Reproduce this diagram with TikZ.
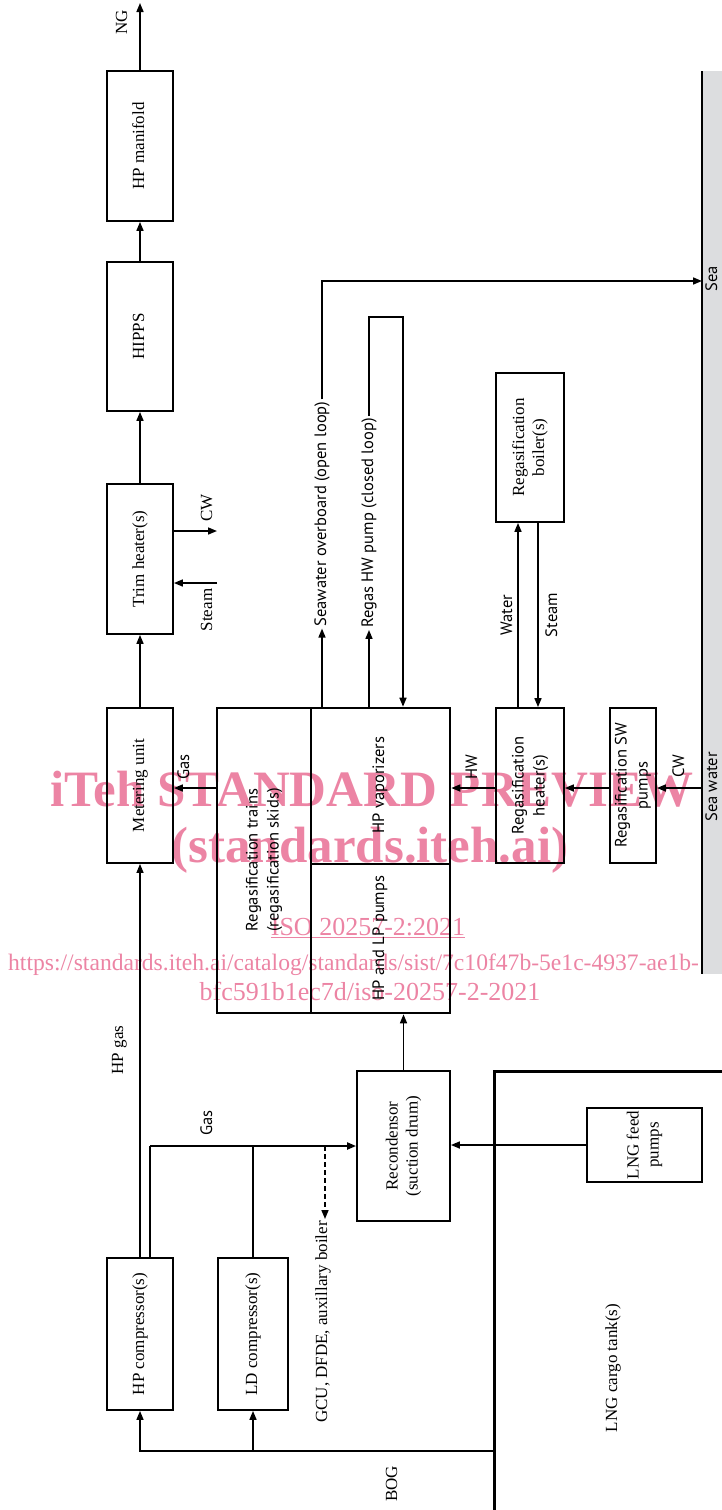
\documentclass[tikz,border=0pt]{standalone}
\usepackage{graphicx}
\usepackage{fontspec}
\setmainfont{Liberation Serif}
\newfontfamily\sanf{PT Sans}
\usetikzlibrary{arrows.meta}
\definecolor{wmpink}{RGB}{236,132,164}
\definecolor{seagray}{RGB}{220,221,223}
\newcommand\rt[1]{\rotatebox{90}{\begin{tabular}{@{}c@{}}#1\end{tabular}}}
\newcommand\serfs{\fontsize{17}{20}\selectfont}
\newcommand\sanfs{\sanf\fontsize{16.5}{21}\selectfont}
\tikzset{
  box/.style={draw, line width=1.8pt, inner sep=0pt, font=\serfs},
  sbox/.style={box, font=\sanfs},
  lbl/.style={inner sep=2pt, font=\serfs},
  slbl/.style={inner sep=2pt, font=\sanfs},
  arr/.style={-{Triangle[length=9pt,width=7pt]}, line width=1.6pt},
  pipe/.style={line width=1.6pt},
  wm/.style={text=wmpink, inner sep=0pt}
}
\begin{document}
\begin{tikzpicture}[x=1pt,y=-1pt]
\useasboundingbox (0,0) rectangle (721,1510);

% watermark
\node[wm, anchor=base, font=\bfseries\fontsize{51}{51}\selectfont] (wm1) at (372,806) {iTeh STANDARD PREVIEW};
\node[wm, anchor=base, font=\bfseries\fontsize{51}{51}\selectfont] (wm2) at (370,862) {(standards.iteh.ai)};
\node[wm, anchor=base, font=\fontsize{26}{26}\selectfont] (wm3) at (368,935) {\underline{ISO 20257-2:2021}};
\node[wm, anchor=base west, font=\fontsize{23.6}{26}\selectfont] (wm4) at (8,970) {https://standards.iteh.ai/catalog/standards/sist/7c10f47b-5e1c-4937-ae1b-};
\node[wm, anchor=base, font=\fontsize{26}{26}\selectfont] (wm5) at (370,1000) {bfc591b1ec7d/iso-20257-2-2021};

% sea strip
\fill[seagray] (702,71) rectangle (722,974);
\draw[line width=2pt] (702,71) -- (702,974);
\coordinate (seaA) at (702,281);
\coordinate (seaB) at (702,788);
\node[slbl, inner sep=0pt] (sealbl) at (713,279) {\rt{Sea}};
\node[slbl, inner sep=0pt] (seawlbl) at (713,787) {\rt{Sea water}};

% tank
\draw[line width=3pt] (722,1071) -- (494,1071) -- (494,1511);
\coordinate (bogr) at (494,1451);
\node[lbl] (tanklbl) at (613,1368) {\rt{LNG cargo tank(s)}};

% boxes
\node[box, minimum width=66pt, minimum height=150pt] (man) at (140,146) {\rt{HP manifold}};
\node[box, minimum width=66pt, minimum height=149pt] (hipps) at (140,336.5) {\rt{HIPPS}};
\node[box, minimum width=66pt, minimum height=150pt] (trim) at (140,559) {\rt{Trim heater(s)}};
\node[box, minimum width=66pt, minimum height=155pt] (meter) at (140,785.5) {\rt{Metering unit}};
\node[box, line width=2.6pt, minimum width=233pt, minimum height=305pt] (rg) at (333.5,860.5) {};
\draw[line width=1.6pt] (311,708) -- (311,1013);
\draw[line width=1.6pt] (311,864) -- (450,864);
\node[slbl] (rgl) at (264,860) {\rt{Regasification trains\\(regasification skids)}};
\node[slbl] (vap) at (380,785) {\rt{HP vaporizers}};
\node[slbl] (pmp) at (380,938) {\rt{HP and LP pumps}};
\node[sbox, minimum width=68pt, minimum height=155pt] (heater) at (530,785.5) {\rt{Regasification\\heater(s)}};
\node[box, minimum width=68pt, minimum height=149pt] (boiler) at (530,447.5) {\rt{Regasification\\boiler(s)}};
\node[sbox, minimum width=46pt, minimum height=155pt] (swp) at (633,785.5) {\rt{Regasification SW\\pumps}};
\node[box, minimum width=93pt, minimum height=150pt] (recon) at (403.5,1146) {\rt{Recondensor\\(suction drum)}};
\node[box, minimum width=115pt, minimum height=74pt] (feed) at (644.5,1145) {\rt{LNG feed\\pumps}};
\node[box, minimum width=66pt, minimum height=152pt] (hpc) at (140,1334) {\rt{HP compressor(s)}};
\node[box, minimum width=70pt, minimum height=152pt] (ldc) at (253,1334) {\rt{LD compressor(s)}};

% main column
\coordinate (ngend) at (140,3);
\draw[arr] (man.north) -- (ngend);
\node[lbl] (ng) at (123,22) {\rt{NG}};
\draw[arr] (hipps.north) -- (man.south);
\draw[arr] (trim.north) -- (hipps.south);
\draw[arr] (meter.north) -- (trim.south);
\coordinate (cwT) at (217,531);
\draw[arr] (trim.east |- cwT) -- (cwT);
\coordinate (stT) at (217,583);
\draw[arr] (stT) -- (trim.east |- stT);
\node[lbl] (cwlbl) at (208,508) {\rt{CW}};
\node[lbl] (stlbl) at (208,610) {\rt{Steam}};

% row of heat
\coordinate (r1) at (0,788);
\draw[arr] (rg.west |- r1) -- (meter.east |- r1);
\node[slbl] (gaslbl) at (185,767) {\rt{Gas}};
\draw[arr] (heater.west |- r1) -- (rg.east |- r1);
\node[slbl] (hwlbl) at (473,767) {\rt{HW}};
\draw[arr] (swp.west |- r1) -- (heater.east |- r1);
\draw[arr] (seaB) -- (swp.east |- r1);
\node[slbl] (cw2lbl) at (680,766) {\rt{CW}};

% boiler loop
\coordinate (wx) at (518,0);
\coordinate (sx) at (538,0);
\draw[arr] (heater.north -| wx) -- (boiler.south -| wx);
\draw[arr] (boiler.south -| sx) -- (heater.north -| sx);
\node[slbl] (wlbl) at (508,615) {\rt{Water}};
\node[slbl] (slbl2) at (553,615) {\rt{Steam}};

% seawater / HW loops
\node[slbl] (sw) at (322,514) {\rt{Seawater overboard (open loop)}};
\draw[arr] (rg.north -| sw) -- (sw.south);
\draw[arr] (sw.north) |- (seaA);
\node[slbl] (hwp) at (369,523) {\rt{Regas HW pump (closed loop)}};
\draw[arr] (rg.north -| hwp) -- (hwp.south);
\coordinate (hwc) at (403,317);
\draw[arr] (hwp.north) |- (hwc) -- (rg.north -| hwc);

% recondensor
\draw[arr] (recon.north) -- (rg.south -| recon.north);
\draw[arr] (feed.west) -- (recon.east |- feed.west);

% compressors
\draw[-{Triangle[length=9pt,width=7pt]}, line width=1.3pt] (hpc.north) -- (meter.south);
\node[lbl] (hpglbl) at (119,1050) {\rt{HP gas}};
\coordinate (gx) at (150,1146);
\draw[pipe, line width=2.2pt] (hpc.north -| gx) -- (gx);
\draw[arr, line width=2pt] (gx) -- (recon.west);
\draw[pipe, line width=2.2pt] (ldc.north) -- (ldc.north |- gx);
\node[slbl] (gas2lbl) at (208,1123) {\rt{Gas}};
\coordinate (dsh) at (325,1146);
\node[lbl] (gcu) at (323,1322) {\rt{GCU, DFDE, auxillary boiler}};
\draw[arr, dash pattern=on 5pt off 3pt] (dsh) -- (gcu.north -| dsh);
\draw[arr] (bogr) -| (hpc.south);
\draw[arr] (ldc.south |- bogr) -- (ldc.south);
\node[lbl] (boglbl) at (393,1484) {\rt{BOG}};
\end{tikzpicture}
\end{document}
